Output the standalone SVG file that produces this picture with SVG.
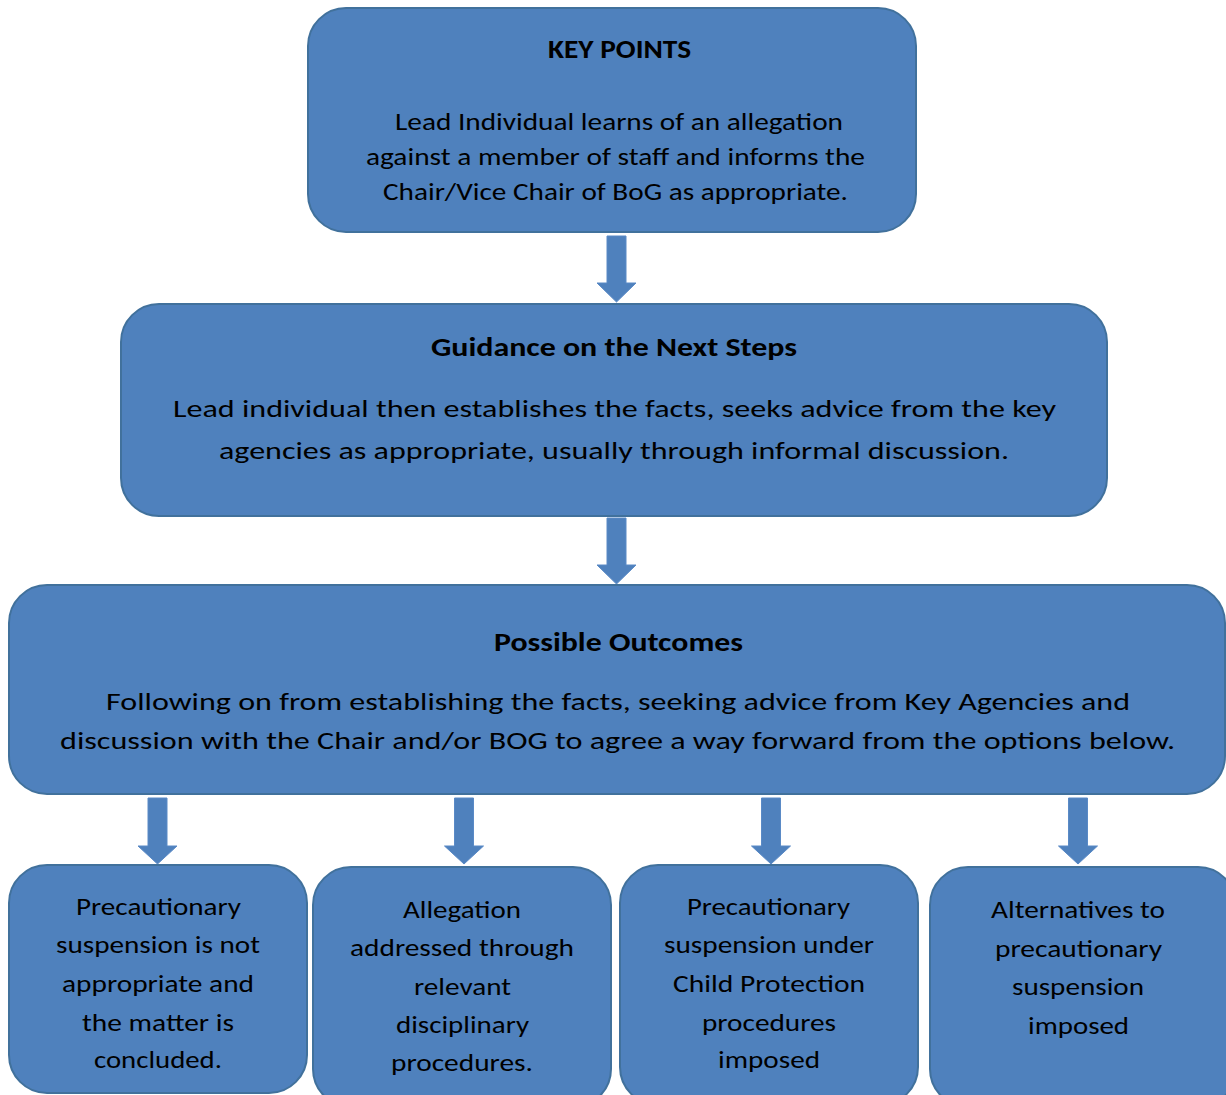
<svg xmlns="http://www.w3.org/2000/svg" width="1226" height="1095" viewBox="0 0 1226 1095">
<style>
.box{fill:#4F81BD;stroke:#41719C;stroke-width:2}
.arr{fill:#4F81BD;stroke:#5A8AC6;stroke-width:1}
text{font-family:Carlito,Lato,"Liberation Sans",sans-serif;fill:#000;text-anchor:middle;font-size:25.5px}
.b{font-weight:bold}
.s{font-size:24.5px}
</style>
<rect width="1226" height="1095" fill="#fff"/>
<g id="connectors">
<path class="arr" d="M607,236 H626 V283 H636 L616.5,302 L597,283 H607 Z"/>
<path class="arr" d="M607,518 H626 V565 H636 L616.5,584 L597,565 H607 Z"/>
<path class="arr" d="M148,798 H167 V846 H177 L157.5,864 L138,846 H148 Z"/>
<path class="arr" d="M454.5,798 H473.5 V846 H483.5 L464,864 L444.5,846 H454.5 Z"/>
<path class="arr" d="M761.5,798 H780.5 V846 H790.5 L771,864 L751.5,846 H761.5 Z"/>
<path class="arr" d="M1068.5,798 H1087.5 V846 H1097.5 L1078,864 L1058.5,846 H1068.5 Z"/>
</g>
<g id="key-points">
<rect class="box" x="308" y="8" width="608" height="224" rx="38"/>
<text class="b" x="619.5" y="58" textLength="143" lengthAdjust="spacingAndGlyphs">KEY POINTS</text>
<text x="619" y="130" textLength="448" lengthAdjust="spacingAndGlyphs">Lead Individual learns of an allegation</text>
<text x="615.5" y="165" textLength="499" lengthAdjust="spacingAndGlyphs">against a member of staff and informs the</text>
<text x="615.5" y="200" textLength="465" lengthAdjust="spacingAndGlyphs">Chair/Vice Chair of BoG as appropriate.</text>
</g>
<g id="guidance">
<rect class="box" x="121" y="304" width="986" height="212" rx="38"/>
<text class="b" x="614" y="356" textLength="366" lengthAdjust="spacingAndGlyphs">Guidance on the Next Steps</text>
<text x="614.5" y="417" textLength="883" lengthAdjust="spacingAndGlyphs">Lead individual then establishes the facts, seeks advice from the key</text>
<text x="614" y="459" textLength="790" lengthAdjust="spacingAndGlyphs">agencies as appropriate, usually through informal discussion.</text>
</g>
<g id="outcomes">
<rect class="box" x="9" y="585" width="1216" height="209" rx="38"/>
<text class="b" x="618.5" y="651" textLength="249" lengthAdjust="spacingAndGlyphs">Possible Outcomes</text>
<text x="618" y="710" textLength="1024" lengthAdjust="spacingAndGlyphs">Following on from establishing the facts, seeking advice from Key Agencies and</text>
<text x="617.5" y="749" textLength="1115" lengthAdjust="spacingAndGlyphs">discussion with the Chair and/or BOG to agree a way forward from the options below.</text>
</g>
<g id="outcome-1">
<rect class="box" x="9" y="865" width="298" height="228" rx="38"/>
<text class="s" x="158.5" y="915" textLength="165" lengthAdjust="spacingAndGlyphs">Precautionary</text>
<text class="s" x="158" y="953" textLength="204" lengthAdjust="spacingAndGlyphs">suspension is not</text>
<text class="s" x="158" y="992" textLength="192" lengthAdjust="spacingAndGlyphs">appropriate and</text>
<text class="s" x="158" y="1031" textLength="152" lengthAdjust="spacingAndGlyphs">the matter is</text>
<text class="s" x="158" y="1068" textLength="128" lengthAdjust="spacingAndGlyphs">concluded.</text>
</g>
<g id="outcome-2">
<rect class="box" x="313" y="867" width="298" height="240" rx="38"/>
<text class="s" x="462" y="918" textLength="118" lengthAdjust="spacingAndGlyphs">Allegation</text>
<text class="s" x="462" y="956" textLength="224" lengthAdjust="spacingAndGlyphs">addressed through</text>
<text class="s" x="462.5" y="995" textLength="97" lengthAdjust="spacingAndGlyphs">relevant</text>
<text class="s" x="462.5" y="1033" textLength="133" lengthAdjust="spacingAndGlyphs">disciplinary</text>
<text class="s" x="462" y="1071" textLength="142" lengthAdjust="spacingAndGlyphs">procedures.</text>
</g>
<g id="outcome-3">
<rect class="box" x="620" y="865" width="298" height="240" rx="38"/>
<text class="s" x="768.5" y="915" textLength="163" lengthAdjust="spacingAndGlyphs">Precautionary</text>
<text class="s" x="769" y="953" textLength="210" lengthAdjust="spacingAndGlyphs">suspension under</text>
<text class="s" x="769" y="992" textLength="192" lengthAdjust="spacingAndGlyphs">Child Protection</text>
<text class="s" x="769" y="1031" textLength="134" lengthAdjust="spacingAndGlyphs">procedures</text>
<text class="s" x="769" y="1068" textLength="102" lengthAdjust="spacingAndGlyphs">imposed</text>
</g>
<g id="outcome-4">
<rect class="box" x="930" y="867" width="306" height="240" rx="38"/>
<text class="s" x="1078" y="918" textLength="174" lengthAdjust="spacingAndGlyphs">Alternatives to</text>
<text class="s" x="1078.5" y="957" textLength="167" lengthAdjust="spacingAndGlyphs">precautionary</text>
<text class="s" x="1078" y="995" textLength="132" lengthAdjust="spacingAndGlyphs">suspension</text>
<text class="s" x="1078.5" y="1034" textLength="101" lengthAdjust="spacingAndGlyphs">imposed</text>
</g>
</svg>
